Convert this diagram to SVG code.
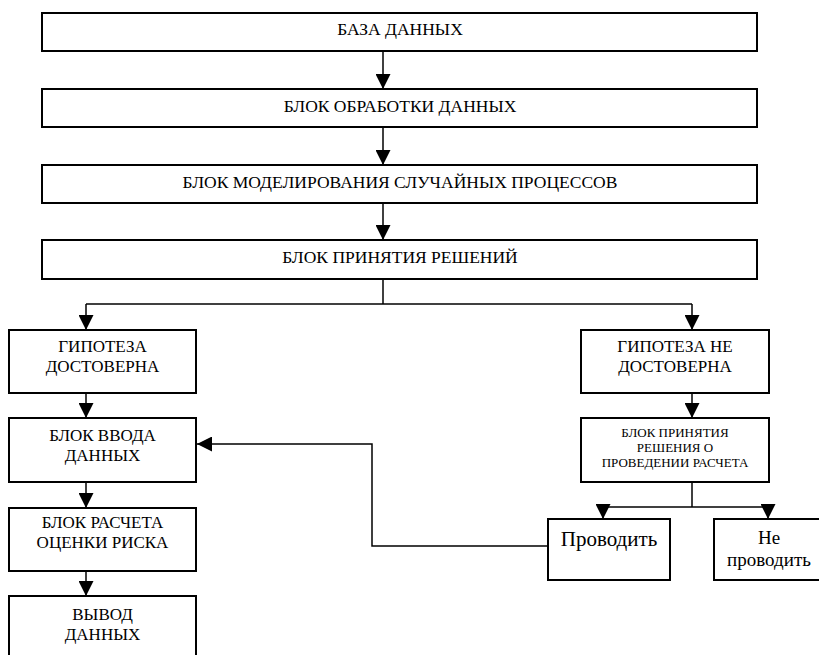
<svg xmlns="http://www.w3.org/2000/svg" width="819" height="655" viewBox="0 0 819 655">
<style>
.box{fill:#fff;stroke:#000;stroke-width:2}
.ln{fill:none;stroke:#000;stroke-width:1.5}
.t{font-family:"Liberation Serif","Times New Roman",serif;font-size:17px;text-anchor:middle;fill:#000}
.w{font-size:17.5px}
.s{font-size:13px}
.b{font-size:21px}
.c{font-size:19px}
</style>
<defs>
<marker id="ah" markerUnits="userSpaceOnUse" markerWidth="15" markerHeight="15" refX="15" refY="7.5" orient="auto">
<path d="M0,0 L15,7.5 L0,15 z" fill="#000"/>
</marker>
</defs>
<g id="connectors">
<line class="ln" x1="383" y1="51" x2="383" y2="89" marker-end="url(#ah)"/>
<line class="ln" x1="383" y1="127" x2="383" y2="165" marker-end="url(#ah)"/>
<line class="ln" x1="383" y1="203" x2="383" y2="240" marker-end="url(#ah)"/>
<polyline class="ln" points="383,279 383,304"/>
<polyline class="ln" points="86,304 692,304"/>
<line class="ln" x1="86" y1="304" x2="86" y2="330" marker-end="url(#ah)"/>
<line class="ln" x1="692" y1="304" x2="692" y2="330" marker-end="url(#ah)"/>
<line class="ln" x1="86" y1="393" x2="86" y2="418" marker-end="url(#ah)"/>
<line class="ln" x1="86" y1="482" x2="86" y2="508" marker-end="url(#ah)"/>
<line class="ln" x1="86" y1="571" x2="86" y2="596" marker-end="url(#ah)"/>
<line class="ln" x1="692" y1="393" x2="692" y2="418" marker-end="url(#ah)"/>
<polyline class="ln" points="692,482 692,507"/>
<polyline class="ln" points="603,507 768,507"/>
<line class="ln" x1="603" y1="507" x2="603" y2="519" marker-end="url(#ah)"/>
<line class="ln" x1="768" y1="507" x2="768" y2="519" marker-end="url(#ah)"/>
<polyline class="ln" points="548,546 372,546 372,444 197,444" marker-end="url(#ah)"/>
</g>
<g id="n1"><rect class="box" x="42" y="13" width="715" height="38"/><text class="t w" x="400" y="35">БАЗА ДАННЫХ</text></g>
<g id="n2"><rect class="box" x="42" y="89" width="715" height="38"/><text class="t w" x="400" y="112">БЛОК ОБРАБОТКИ ДАННЫХ</text></g>
<g id="n3"><rect class="box" x="42" y="165" width="715" height="38"/><text class="t w" x="400" y="188">БЛОК МОДЕЛИРОВАНИЯ СЛУЧАЙНЫХ ПРОЦЕССОВ</text></g>
<g id="n4"><rect class="box" x="42" y="240" width="715" height="39"/><text class="t w" x="400" y="263">БЛОК ПРИНЯТИЯ РЕШЕНИЙ</text></g>
<g id="n5"><rect class="box" x="9" y="330" width="187" height="63"/><text class="t" x="102.5" y="352">ГИПОТЕЗА</text><text class="t" x="102.5" y="372">ДОСТОВЕРНА</text></g>
<g id="n6"><rect class="box" x="9" y="418" width="187" height="64"/><text class="t" x="102.5" y="441">БЛОК ВВОДА</text><text class="t" x="102.5" y="461">ДАННЫХ</text></g>
<g id="n7"><rect class="box" x="9" y="508" width="187" height="63"/><text class="t" x="102.5" y="528">БЛОК РАСЧЕТА</text><text class="t" x="102.5" y="548">ОЦЕНКИ РИСКА</text></g>
<g id="n8"><rect class="box" x="9" y="596" width="187" height="70"/><text class="t" x="102.5" y="620">ВЫВОД</text><text class="t" x="102.5" y="640">ДАННЫХ</text></g>
<g id="n9"><rect class="box" x="581" y="330" width="188" height="63"/><text class="t" x="675" y="352">ГИПОТЕЗА НЕ</text><text class="t" x="675" y="372">ДОСТОВЕРНА</text></g>
<g id="n10"><rect class="box" x="581" y="418" width="188" height="64"/><text class="t s" x="675" y="437">БЛОК ПРИНЯТИЯ</text><text class="t s" x="675" y="452">РЕШЕНИЯ О</text><text class="t s" x="675" y="467">ПРОВЕДЕНИИ РАСЧЕТА</text></g>
<g id="n11"><rect class="box" x="548" y="519" width="122" height="61"/><text class="t b" x="609" y="546">Проводить</text></g>
<g id="n12"><rect class="box" x="714" y="519" width="110" height="61"/><text class="t c" x="769" y="544">Не</text><text class="t c" x="769" y="566">проводить</text></g>
</svg>
